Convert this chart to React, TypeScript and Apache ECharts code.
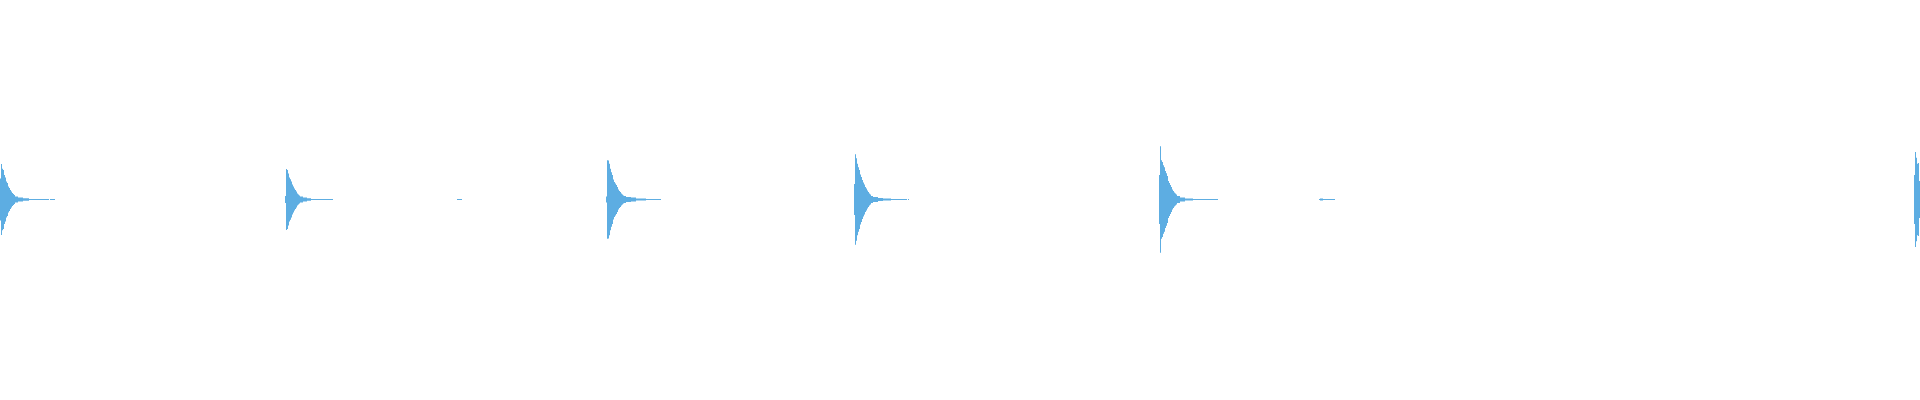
import React, { useEffect, useRef } from "react";
import * as echarts from "echarts";

// Number of bins across the waveform (one per pixel column)
const binCount = 1920;

// Each burst: start bin and amplitude envelope (peak per bin, range 0..1)
const burst1Start = 0;
const burst1 = [
  0.15, 0.254, 0.221, 0.211, 0.175, 0.157, 0.129, 0.118, 0.093, 0.082, 0.068, 0.057, 0.046, 0.039, 0.032,
  0.021, 0.021, 0.021, 0.014, 0.014, 0.014, 0.014, 0.014,
  0.009, 0.009, 0.009, 0.009, 0.009, 0.009,
  0.004, 0.004, 0.004, 0.004, 0.004, 0.004, 0.004, 0.004, 0.004, 0.004,
  0.004, 0.004, 0.004, 0.004, 0.004, 0.004, 0.004, 0.004, 0.004, 0.004,
  0, 0.004, 0.004, 0.004, 0.004, 0.004,
];

const burst2Start = 285;
const burst2 = [
  0.025, 0.218, 0.211, 0.186, 0.157, 0.146, 0.129, 0.107, 0.093, 0.079, 0.068, 0.057, 0.043, 0.036, 0.029,
  0.021, 0.021, 0.021, 0.014, 0.014, 0.014, 0.014,
  0.009, 0.009, 0.009, 0.009,
  0.004, 0.004, 0.004, 0.004, 0.004, 0.004, 0.004, 0.004, 0.004, 0.004, 0.004,
  0.004, 0.004, 0.004, 0.004, 0.004, 0.004, 0.004, 0.004, 0.004, 0.004, 0.004,
];

const burst3Start = 457;
const burst3 = [0.004, 0.004, 0.004, 0.004, 0.004];

const burst4Start = 606;
const burst4 = [
  0.021, 0.282, 0.279, 0.257, 0.221, 0.196, 0.175, 0.143, 0.125, 0.114, 0.104, 0.089, 0.071, 0.061, 0.054,
  0.043, 0.036, 0.029, 0.025, 0.025,
  0.018, 0.018, 0.018, 0.018, 0.018,
  0.014, 0.014, 0.014, 0.014, 0.014,
  0.007, 0.007, 0.007, 0.007, 0.007, 0.007, 0.007, 0.007, 0.007, 0.007,
  0.004, 0.004, 0.004, 0.004, 0.004, 0.004, 0.004, 0.004, 0.004, 0.004, 0.004, 0.004, 0.004, 0.004, 0.004,
];

const burst5Start = 854;
const burst5 = [
  0.111, 0.325, 0.296, 0.257, 0.232, 0.211, 0.179, 0.161, 0.139, 0.121, 0.107, 0.089, 0.079, 0.064, 0.054,
  0.043, 0.036, 0.025, 0.025,
  0.018, 0.018, 0.018, 0.018, 0.018,
  0.011, 0.011, 0.011, 0.011, 0.011,
  0.007, 0.007, 0.007, 0.007, 0.007, 0.007, 0.007, 0.007,
  0.004, 0.004, 0.004, 0.004, 0.004, 0.004, 0.004, 0.004, 0.004, 0.004, 0.004, 0.004, 0.004, 0.004, 0.004, 0.004,
  0, 0.004,
];

const burst6Start = 1159;
const burst6 = [
  0.175, 0.382, 0.282, 0.268, 0.246, 0.232, 0.204, 0.189, 0.168, 0.132, 0.118, 0.104, 0.089, 0.071, 0.061,
  0.05, 0.043, 0.036, 0.025, 0.025, 0.025,
  0.014, 0.014, 0.014, 0.014, 0.014,
  0.007, 0.007, 0.007, 0.007, 0.007, 0.007, 0.007, 0.007,
  0.004, 0.004, 0.004, 0.004, 0.004, 0.004, 0.004, 0.004, 0.004, 0.004, 0.004, 0.004, 0.004,
  0.004, 0.004, 0.004, 0.004, 0.004, 0.004, 0.004, 0.004, 0.004, 0.004, 0.004, 0.004,
];

const burst7Start = 1319;
const burst7 = [
  0.004, 0.007, 0.007, 0.007, 0.004, 0.004, 0.004, 0.004, 0.004, 0.004, 0.004, 0.004, 0.004, 0.004, 0.004, 0.004,
];

const burst8Start = 1914;
const burst8 = [0.175, 0.341, 0.299, 0.257, 0.261, 0.132];

const bursts: [number, number[]][] = [
  [burst1Start, burst1],
  [burst2Start, burst2],
  [burst3Start, burst3],
  [burst4Start, burst4],
  [burst5Start, burst5],
  [burst6Start, burst6],
  [burst7Start, burst7],
  [burst8Start, burst8],
];

const waveColor = "#5dade2";

function buildEnvelope(): number[] {
  const env: number[] = new Array(binCount).fill(0);
  for (const [start, values] of bursts) {
    values.forEach((v, i) => {
      if (start + i < binCount) env[start + i] = v;
    });
  }
  return env;
}

export default function App() {
  const ref = useRef<HTMLDivElement>(null);

  useEffect(() => {
    document.body.style.margin = "0";
    if (!ref.current) return;
    const chart = echarts.init(ref.current, undefined, { renderer: "svg" });
    const env = buildEnvelope();
    const categories = env.map((_, i) => String(i));
    chart.setOption({
      animation: false,
      grid: { left: 0, right: 0, top: 60, bottom: 61, containLabel: false },
      xAxis: {
        type: "category",
        data: categories,
        show: false,
        boundaryGap: true,
      },
      yAxis: {
        type: "value",
        min: -1,
        max: 1,
        show: false,
      },
      series: [
        {
          name: "min",
          type: "bar",
          stack: "wave",
          stackStrategy: "all",
          data: env.map((v) => -v),
          barWidth: "100%",
          itemStyle: { color: "transparent" },
          silent: true,
        },
        {
          name: "range",
          type: "bar",
          stack: "wave",
          stackStrategy: "all",
          data: env.map((v) => 2 * v),
          barWidth: "100%",
          itemStyle: { color: waveColor },
          silent: true,
        },
      ],
    });
    return () => chart.dispose();
  }, []);

  return <div ref={ref} style={{ width: 1920, height: 400 }} />;
}
